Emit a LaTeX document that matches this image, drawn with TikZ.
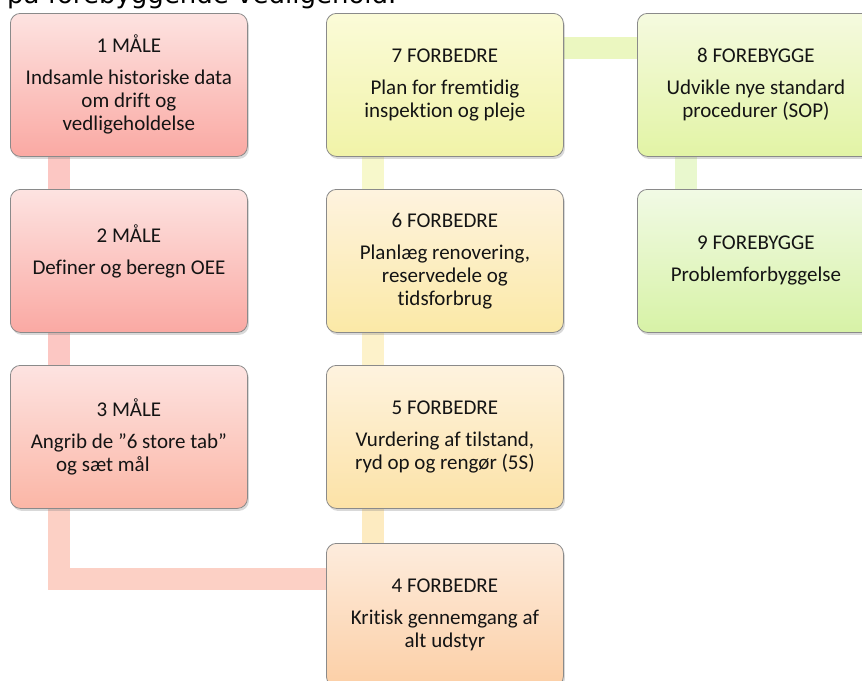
\documentclass[tikz,border=0pt]{standalone}
\usepackage{fontspec}
\setmainfont{Carlito}[Ligatures=NoCommon]
\newfontfamily\headfont{DejaVu Sans}
\usetikzlibrary{shadows,calc,backgrounds}

\definecolor{boxline}{HTML}{8A8A8A}
\definecolor{textcol}{HTML}{141414}
\definecolor{maaleA}{HTML}{FDE3E1}
\definecolor{maaleB}{HTML}{FAA9A3}
\definecolor{maaleC}{HTML}{FBB6A6}
\definecolor{forbA}{HTML}{FDECDD}
\definecolor{forbB}{HTML}{FCCFA6}
\definecolor{forbC}{HTML}{FEF3DF}
\definecolor{forbD}{HTML}{FCE2A6}
\definecolor{forbE}{HTML}{FBE9A6}
\definecolor{forbF}{HTML}{FBFBD8}
\definecolor{forbG}{HTML}{F1F3A8}
\definecolor{foreA}{HTML}{F5FADF}
\definecolor{foreB}{HTML}{E2F4A5}
\definecolor{foreC}{HTML}{F1FAE5}
\definecolor{foreD}{HTML}{D7F2A6}

\begin{document}
\begin{tikzpicture}[x=1pt,y=-1pt,
	phase/.style 2 args={draw=boxline, line width=0.8pt, rounded corners=10pt,
		anchor=north west, minimum width=237pt, minimum height=143pt,
		inner sep=0pt, align=center, top color=#1, bottom color=#2,
		drop shadow={opacity=0.3,shadow xshift=1.5pt,shadow yshift=-2.5pt},
		font=\fontsize{21}{23}\selectfont, text=textcol},
	bar/.style={line width=22pt, draw=#1}]
	\useasboundingbox (0,0) rectangle (862,680);
	\clip (0,0) rectangle (862,680);
	% heading, cut by the top edge
	\node[anchor=base west, inner sep=0pt, text=black,
		font=\headfont\fontsize{26}{30}\selectfont] (heading) at (7,4) {på forebyggende vedligehold.};
	% maale
	\node[phase={maaleA}{maaleB}] (s1) at (10,13) {1 MÅLE\\[9pt]Indsamle historiske data\\om drift og\\vedligeholdelse};
	\node[phase={maaleA}{maaleB}] (s2) at (10,189) {2 MÅLE\\[9pt]Definer og beregn OEE\\~};
	\node[phase={maaleA}{maaleC}] (s3) at (10,365) {3 MÅLE\\[9pt]Angrib de "6 store tab"\\og sæt mål\hspace*{52pt}};
	% forbedre
	\node[phase={forbA}{forbB}] (s4) at (326,543) {4 FORBEDRE\\[9pt]Kritisk gennemgang af\\alt udstyr};
	\node[phase={forbC}{forbD}] (s5) at (326,365) {5 FORBEDRE\\[9pt]Vurdering af tilstand,\\ryd op og rengør (5S)};
	\node[phase={forbC}{forbE}] (s6) at (326,189) {6 FORBEDRE\\[9pt]Planlæg renovering,\\reservedele og\\tidsforbrug};
	\node[phase={forbF}{forbG}] (s7) at (326,13) {7 FORBEDRE\\[9pt]Plan for fremtidig\\inspektion og pleje};
	% forebygge
	\node[phase={foreA}{foreB}] (s8) at (637,13) {8 FOREBYGGE\\[9pt]Udvikle nye standard\\procedurer (SOP)};
	\node[phase={foreC}{foreD}] (s9) at (637,189) {9 FOREBYGGE\\[9pt]Problemforbyggelse};
	% bars behind the boxes
	\begin{scope}[on background layer]
		\draw[bar=maaleB!65] ($(s1.south west)+(49,0)$) -- ($(s2.north west)+(49,0)$);
		\draw[bar=maaleB!65] ($(s2.south west)+(49,0)$) -- ($(s3.north west)+(49,0)$);
		\draw[bar=maaleC!65] ($(s3.south west)+(49,0)$) |- ($(s4.north west)+(0,36)$);
		\draw[bar=forbD!70] ($(s5.south west)+(47,0)$) -- ($(s4.north west)+(47,0)$);
		\draw[bar=forbE!60] ($(s6.south west)+(47,0)$) -- ($(s5.north west)+(47,0)$);
		\draw[bar=forbG!60] ($(s7.south west)+(47,0)$) -- ($(s6.north west)+(47,0)$);
		\draw[bar=foreB!70] ($(s7.north east)+(0,35)$) -- ($(s8.north west)+(0,35)$);
		\draw[bar=foreD!55] ($(s8.south west)+(49,0)$) -- ($(s9.north west)+(49,0)$);
	\end{scope}
\end{tikzpicture}
\end{document}
